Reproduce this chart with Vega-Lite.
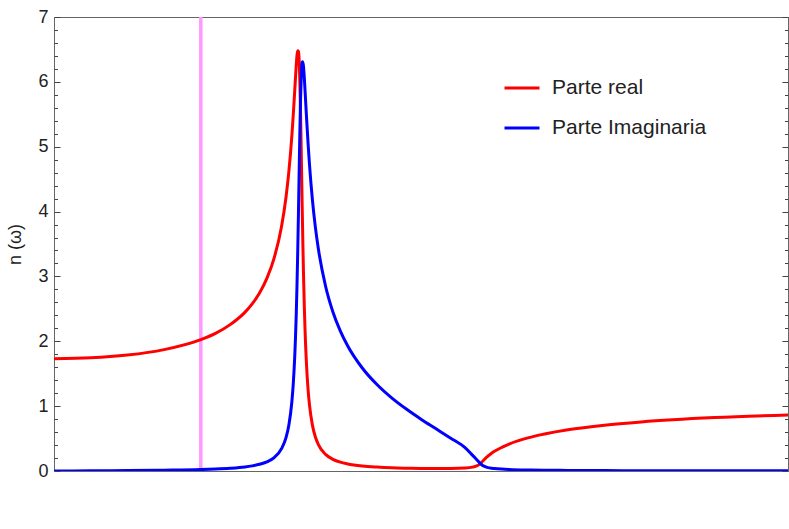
{
  "$schema": "https://vega.github.io/schema/vega-lite/v6.json",
  "width": 734,
  "height": 454,
  "autosize": {"type": "none"},
  "padding": {"left": 54, "top": 17, "right": 1, "bottom": 58},
  "background": "white",
  "config": {
    "font": "Liberation Sans",
    "view": {"stroke": "#666666", "strokeWidth": 1},
    "axis": {"labelColor": "#222222", "titleColor": "#222222", "domain": false, "ticks": false, "labelFont": "Liberation Sans", "titleFont": "Liberation Sans"}
  },
  "datasets": {
    "curves": [
      {"w": 0, "n": 1.732, "s": "Parte real"},
      {"w": 0.25, "n": 1.745, "s": "Parte real"},
      {"w": 0.5, "n": 1.787, "s": "Parte real"},
      {"w": 0.75, "n": 1.871, "s": "Parte real"},
      {"w": 1.0, "n": 2.025, "s": "Parte real"},
      {"w": 1.1, "n": 2.122, "s": "Parte real"},
      {"w": 1.2, "n": 2.257, "s": "Parte real"},
      {"w": 1.3, "n": 2.446, "s": "Parte real"},
      {"w": 1.35, "n": 2.577, "s": "Parte real"},
      {"w": 1.4, "n": 2.744, "s": "Parte real"},
      {"w": 1.45, "n": 2.970, "s": "Parte real"},
      {"w": 1.5, "n": 3.287, "s": "Parte real"},
      {"w": 1.55, "n": 3.771, "s": "Parte real"},
      {"w": 1.58, "n": 4.214, "s": "Parte real"},
      {"w": 1.6, "n": 4.619, "s": "Parte real"},
      {"w": 1.62, "n": 5.160, "s": "Parte real"},
      {"w": 1.63, "n": 5.495, "s": "Parte real"},
      {"w": 1.64, "n": 5.869, "s": "Parte real"},
      {"w": 1.645, "n": 6.062, "s": "Parte real"},
      {"w": 1.65, "n": 6.247, "s": "Parte real"},
      {"w": 1.655, "n": 6.403, "s": "Parte real"},
      {"w": 1.66, "n": 6.480, "s": "Parte real"},
      {"w": 1.665, "n": 6.470, "s": "Parte real"},
      {"w": 1.67, "n": 6.336, "s": "Parte real"},
      {"w": 1.675, "n": 5.988, "s": "Parte real"},
      {"w": 1.68, "n": 5.463, "s": "Parte real"},
      {"w": 1.685, "n": 4.823, "s": "Parte real"},
      {"w": 1.69, "n": 4.157, "s": "Parte real"},
      {"w": 1.695, "n": 3.537, "s": "Parte real"},
      {"w": 1.7, "n": 2.999, "s": "Parte real"},
      {"w": 1.705, "n": 2.550, "s": "Parte real"},
      {"w": 1.71, "n": 2.184, "s": "Parte real"},
      {"w": 1.72, "n": 1.642, "s": "Parte real"},
      {"w": 1.73, "n": 1.279, "s": "Parte real"},
      {"w": 1.74, "n": 1.026, "s": "Parte real"},
      {"w": 1.76, "n": 0.711, "s": "Parte real"},
      {"w": 1.78, "n": 0.528, "s": "Parte real"},
      {"w": 1.8, "n": 0.412, "s": "Parte real"},
      {"w": 1.85, "n": 0.256, "s": "Parte real"},
      {"w": 1.9, "n": 0.180, "s": "Parte real"},
      {"w": 1.95, "n": 0.136, "s": "Parte real"},
      {"w": 2.0, "n": 0.109, "s": "Parte real"},
      {"w": 2.1, "n": 0.077, "s": "Parte real"},
      {"w": 2.2, "n": 0.060, "s": "Parte real"},
      {"w": 2.3, "n": 0.049, "s": "Parte real"},
      {"w": 2.4, "n": 0.043, "s": "Parte real"},
      {"w": 2.5, "n": 0.039, "s": "Parte real"},
      {"w": 2.6, "n": 0.038, "s": "Parte real"},
      {"w": 2.7, "n": 0.039, "s": "Parte real"},
      {"w": 2.8, "n": 0.047, "s": "Parte real"},
      {"w": 2.85, "n": 0.060, "s": "Parte real"},
      {"w": 2.88, "n": 0.078, "s": "Parte real"},
      {"w": 2.9, "n": 0.106, "s": "Parte real"},
      {"w": 2.92, "n": 0.150, "s": "Parte real"},
      {"w": 2.95, "n": 0.218, "s": "Parte real"},
      {"w": 2.97, "n": 0.255, "s": "Parte real"},
      {"w": 3.0, "n": 0.303, "s": "Parte real"},
      {"w": 3.05, "n": 0.364, "s": "Parte real"},
      {"w": 3.1, "n": 0.415, "s": "Parte real"},
      {"w": 3.25, "n": 0.523, "s": "Parte real"},
      {"w": 3.5, "n": 0.635, "s": "Parte real"},
      {"w": 3.75, "n": 0.707, "s": "Parte real"},
      {"w": 4.0, "n": 0.757, "s": "Parte real"},
      {"w": 4.5, "n": 0.823, "s": "Parte real"},
      {"w": 5.0, "n": 0.864, "s": "Parte real"},
      {"w": 0, "n": 0.0, "s": "Parte Imaginaria"},
      {"w": 0.25, "n": 0.003, "s": "Parte Imaginaria"},
      {"w": 0.5, "n": 0.006, "s": "Parte Imaginaria"},
      {"w": 0.75, "n": 0.012, "s": "Parte Imaginaria"},
      {"w": 1.0, "n": 0.022, "s": "Parte Imaginaria"},
      {"w": 1.1, "n": 0.030, "s": "Parte Imaginaria"},
      {"w": 1.2, "n": 0.042, "s": "Parte Imaginaria"},
      {"w": 1.3, "n": 0.062, "s": "Parte Imaginaria"},
      {"w": 1.35, "n": 0.079, "s": "Parte Imaginaria"},
      {"w": 1.4, "n": 0.103, "s": "Parte Imaginaria"},
      {"w": 1.45, "n": 0.141, "s": "Parte Imaginaria"},
      {"w": 1.5, "n": 0.208, "s": "Parte Imaginaria"},
      {"w": 1.55, "n": 0.344, "s": "Parte Imaginaria"},
      {"w": 1.58, "n": 0.511, "s": "Parte Imaginaria"},
      {"w": 1.6, "n": 0.709, "s": "Parte Imaginaria"},
      {"w": 1.62, "n": 1.060, "s": "Parte Imaginaria"},
      {"w": 1.63, "n": 1.348, "s": "Parte Imaginaria"},
      {"w": 1.64, "n": 1.770, "s": "Parte Imaginaria"},
      {"w": 1.645, "n": 2.054, "s": "Parte Imaginaria"},
      {"w": 1.65, "n": 2.404, "s": "Parte Imaginaria"},
      {"w": 1.655, "n": 2.833, "s": "Parte Imaginaria"},
      {"w": 1.66, "n": 3.351, "s": "Parte Imaginaria"},
      {"w": 1.665, "n": 3.952, "s": "Parte Imaginaria"},
      {"w": 1.67, "n": 4.605, "s": "Parte Imaginaria"},
      {"w": 1.675, "n": 5.243, "s": "Parte Imaginaria"},
      {"w": 1.68, "n": 5.780, "s": "Parte Imaginaria"},
      {"w": 1.685, "n": 6.143, "s": "Parte Imaginaria"},
      {"w": 1.69, "n": 6.300, "s": "Parte Imaginaria"},
      {"w": 1.695, "n": 6.310, "s": "Parte Imaginaria"},
      {"w": 1.7, "n": 6.228, "s": "Parte Imaginaria"},
      {"w": 1.705, "n": 6.065, "s": "Parte Imaginaria"},
      {"w": 1.71, "n": 5.870, "s": "Parte Imaginaria"},
      {"w": 1.72, "n": 5.459, "s": "Parte Imaginaria"},
      {"w": 1.73, "n": 5.076, "s": "Parte Imaginaria"},
      {"w": 1.74, "n": 4.737, "s": "Parte Imaginaria"},
      {"w": 1.76, "n": 4.188, "s": "Parte Imaginaria"},
      {"w": 1.78, "n": 3.768, "s": "Parte Imaginaria"},
      {"w": 1.8, "n": 3.437, "s": "Parte Imaginaria"},
      {"w": 1.85, "n": 2.849, "s": "Parte Imaginaria"},
      {"w": 1.9, "n": 2.452, "s": "Parte Imaginaria"},
      {"w": 1.95, "n": 2.160, "s": "Parte Imaginaria"},
      {"w": 2.0, "n": 1.931, "s": "Parte Imaginaria"},
      {"w": 2.1, "n": 1.588, "s": "Parte Imaginaria"},
      {"w": 2.2, "n": 1.333, "s": "Parte Imaginaria"},
      {"w": 2.3, "n": 1.128, "s": "Parte Imaginaria"},
      {"w": 2.4, "n": 0.955, "s": "Parte Imaginaria"},
      {"w": 2.5, "n": 0.799, "s": "Parte Imaginaria"},
      {"w": 2.6, "n": 0.654, "s": "Parte Imaginaria"},
      {"w": 2.7, "n": 0.509, "s": "Parte Imaginaria"},
      {"w": 2.8, "n": 0.360, "s": "Parte Imaginaria"},
      {"w": 2.85, "n": 0.245, "s": "Parte Imaginaria"},
      {"w": 2.88, "n": 0.175, "s": "Parte Imaginaria"},
      {"w": 2.9, "n": 0.125, "s": "Parte Imaginaria"},
      {"w": 2.92, "n": 0.085, "s": "Parte Imaginaria"},
      {"w": 2.95, "n": 0.056, "s": "Parte Imaginaria"},
      {"w": 2.97, "n": 0.047, "s": "Parte Imaginaria"},
      {"w": 3.0, "n": 0.039, "s": "Parte Imaginaria"},
      {"w": 3.05, "n": 0.030, "s": "Parte Imaginaria"},
      {"w": 3.1, "n": 0.024, "s": "Parte Imaginaria"},
      {"w": 3.25, "n": 0.015, "s": "Parte Imaginaria"},
      {"w": 3.5, "n": 0.009, "s": "Parte Imaginaria"},
      {"w": 3.75, "n": 0.006, "s": "Parte Imaginaria"},
      {"w": 4.0, "n": 0.005, "s": "Parte Imaginaria"},
      {"w": 4.5, "n": 0.003, "s": "Parte Imaginaria"},
      {"w": 5.0, "n": 0.002, "s": "Parte Imaginaria"}
    ],
    "marker": [{"w": 1}]
  },
  "layer": [
    {
      "data": {"name": "marker"},
      "mark": {"type": "rule", "color": "#ff99ff", "strokeWidth": 3.5},
      "encoding": {
        "x": {"field": "w", "type": "quantitative", "scale": {"domain": [0, 5], "nice": false, "zero": false}, "axis": null}
      }
    },
    {
      "data": {"name": "curves"},
      "mark": {"type": "line", "strokeWidth": 3, "clip": true, "interpolate": "monotone"},
      "encoding": {
        "x": {"field": "w", "type": "quantitative", "scale": {"domain": [0, 5], "nice": false, "zero": false},
          "axis": {"orient": "bottom", "values": [0, 0.2, 0.4, 0.6, 0.8, 1, 1.2, 1.4, 1.6, 1.8, 2, 2.2, 2.4, 2.6, 2.8, 3, 3.2, 3.4, 3.6, 3.8, 4, 4.2, 4.4, 4.6, 4.8, 5],
            "labelExpr": "abs(datum.value - round(datum.value)) < 0.001 ? format(datum.value, 'd') : ''",
            "grid": true, "gridColor": "#444444", "gridOpacity": 1, "gridWidth": 1,
            "gridDash": {"condition": {"test": "abs(datum.value - round(datum.value)) < 0.001", "value": [6, 442, 6, 0]}, "value": [3.5, 447, 3.5, 0]},
            "labelPadding": 8, "labelFontSize": 18, "title": "ω (rad/fs)", "titleFontSize": 18, "titleFontWeight": "normal", "titlePadding": 12}},
        "y": {"field": "n", "type": "quantitative", "scale": {"domain": [0, 7], "nice": false, "zero": false},
          "axis": {"orient": "left", "values": [0, 0.2, 0.4, 0.6, 0.8, 1, 1.2, 1.4, 1.6, 1.8, 2, 2.2, 2.4, 2.6, 2.8, 3, 3.2, 3.4, 3.6, 3.8, 4, 4.2, 4.4, 4.6, 4.8, 5, 5.2, 5.4, 5.6, 5.8, 6, 6.2, 6.4, 6.6, 6.8, 7],
            "labelExpr": "abs(datum.value - round(datum.value)) < 0.001 ? format(datum.value, 'd') : ''",
            "grid": true, "gridColor": "#444444", "gridOpacity": 1, "gridWidth": 1,
            "gridDash": {"condition": {"test": "abs(datum.value - round(datum.value)) < 0.001", "value": [6, 722, 6, 0]}, "value": [3.5, 727, 3.5, 0]},
            "labelPadding": 6, "labelFontSize": 18, "title": "n (ω)", "titleFontSize": 18, "titleFontWeight": "normal", "titlePadding": 13}},
        "color": {"field": "s", "type": "nominal",
          "scale": {"domain": ["Parte real", "Parte Imaginaria"], "range": ["#ff0000", "#0000ff"]},
          "legend": {"orient": "none", "legendX": 449, "legendY": 52, "title": null, "symbolType": "stroke", "symbolSize": 1225, "symbolStrokeWidth": 3, "labelFontSize": 21, "labelColor": "#222222", "labelOffset": 11, "rowPadding": 11, "padding": 0}}
      }
    }
  ]
}
